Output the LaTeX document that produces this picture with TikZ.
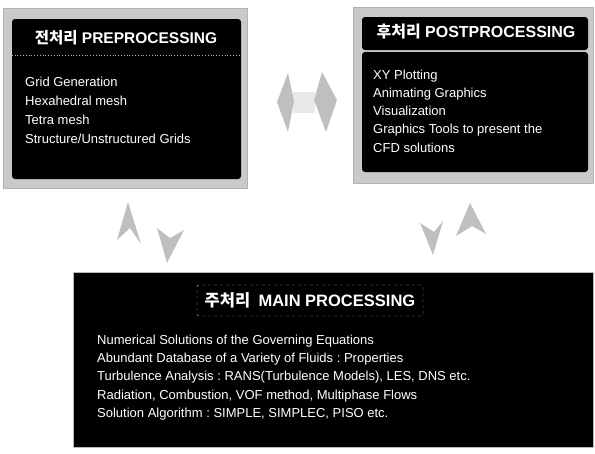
\documentclass[tikz,border=0pt]{standalone}
\usepackage{fontspec}
\setmainfont{Liberation Sans}
\newfontfamily\krfont{Noto Sans CJK KR}
\usetikzlibrary{positioning, calc}
\frenchspacing

\begin{document}
\begin{tikzpicture}[
    x=1pt, y=-1pt,
    % Styles
    frame/.style={
        rectangle,
        draw=gray!60,
        fill=gray!42,
        line width=0.6pt,
        inner sep=0pt
    },
    panel/.style={
        rectangle,
        fill=black,
        rounded corners=3pt,
        inner sep=0pt
    },
    title/.style={
        text=white,
        font=\bfseries\fontsize{15.5}{18}\selectfont
    },
    items/.style={
        text=white,
        align=left,
        anchor=north west,
        inner sep=0pt
    },
    separator/.style={
        draw=gray!60,
        dotted,
        line width=0.8pt
    },
    headfill/.style={
        fill=gray!50
    },
    shaftfill/.style={
        fill=gray!18
    }
]

\useasboundingbox (0,0) rectangle (595,453);

% Preprocessing box
\node[frame, minimum width=244pt, minimum height=180pt] (pre) at (125,98) {};
\node[panel, minimum width=229pt, minimum height=160pt] (prein) at (126.5,99) {};
\draw[separator] ([yshift=-37pt]prein.north west) -- ([yshift=-37pt]prein.north east);
\node[title] (pretitle) at (126,38) {{\krfont 전처리} PREPROCESSING};
\node[items, font=\fontsize{13}{19.2}\selectfont] (prebody) at (25,76.5) {
    Grid Generation\\
    Hexahedral mesh\\
    Tetra mesh\\
    Structure/Unstructured Grids
};

% Postprocessing box
\node[frame, minimum width=240pt, minimum height=176pt] (post) at (473,95) {};
\node[panel, minimum width=226pt, minimum height=33pt] (posthead) at (475,33.5) {};
\node[panel, minimum width=226pt, minimum height=120pt] (postin) at (475,112) {};
\node[title, font=\bfseries\fontsize{16}{18}\selectfont] (posttitle) at (476,32) {{\krfont 후처리} POSTPROCESSING};
\node[items, font=\fontsize{13}{18.25}\selectfont] (postbody) at (373,69.5) {
    XY Plotting\\
    Animating Graphics\\
    Visualization\\
    Graphics Tools to present the\\
    CFD solutions
};

% Main processing box
\node[panel, rounded corners=0pt, draw=gray!55, line width=0.8pt,
      minimum width=520pt, minimum height=175pt] (main) at (333,359.5) {};
\node[draw=gray!60, dashed, rounded corners=2pt, line width=0.4pt,
      minimum width=226pt, minimum height=31pt, inner sep=0pt,
      text=white, font=\bfseries\fontsize{16.5}{18}\selectfont] (maintitle) at (310,300.5)
    {{\krfont 주처리}\enspace MAIN PROCESSING};
\node[items, font=\fontsize{13}{18.3}\selectfont] (mainbody) at (97,334.5) {
    Numerical Solutions of the Governing Equations\\
    Abundant Database of a Variety of Fluids : Properties\\
    Turbulence Analysis : RANS(Turbulence Models), LES, DNS etc.\\
    Radiation, Combustion, VOF method, Multiphase Flows\\
    Solution Algorithm : SIMPLE, SIMPLEC, PISO etc.
};

% Flow arrows
\coordinate (lr) at (307,101);
\coordinate (bl) at (150,232);
\coordinate (br) at (452,228);

\fill[shaftfill, shift={(lr)}] (-14,-9) rectangle (8,12);
\fill[headfill, shift={(lr)}] (-30,1) -- (-19,-28) -- (-13,0) -- (-19,31) -- cycle;
\fill[headfill, shift={(lr)}] (30,-1) -- (15,-29) -- (7,-1) -- (19,31) -- cycle;

\fill[headfill, shift={(bl)}] (-22,-30) -- (-33,8) -- (-20,-4) -- (-9,12) -- cycle;
\fill[headfill, shift={(bl)}] (17,31) -- (7,-4) -- (20,6) -- (34,-2) -- cycle;

\fill[headfill, shift={(br)}] (-19,27) -- (-32,-5) -- (-18,4) -- (-9,-7) -- cycle;
\fill[headfill, shift={(br)}] (18,-25) -- (4,8) -- (20,-2) -- (34,6) -- cycle;

\end{tikzpicture}
\end{document}
